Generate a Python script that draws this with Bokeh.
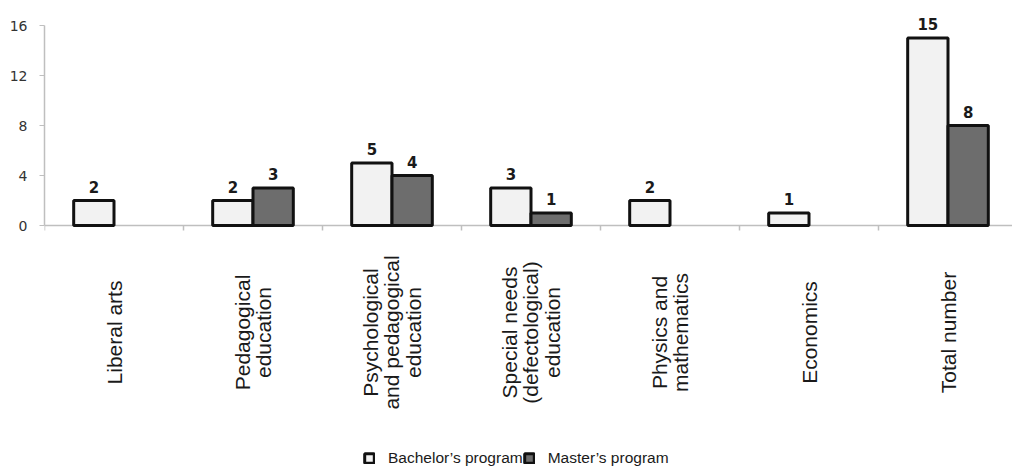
import math
from bokeh.plotting import figure
from bokeh.models import Range1d, FixedTicker, ColumnDataSource, Legend, LegendItem
from bokeh.embed import file_html
from bokeh.resources import INLINE
from bokeh.core.properties import value

categories = [
    "Liberal arts",
    "Pedagogical\neducation",
    "Psychological\nand pedagogical\neducation",
    "Special needs\n(defectological)\neducation",
    "Physics and\nmathematics",
    "Economics",
    "Total number",
]
bachelor = [2, 2, 5, 3, 2, 1, 15]
master = [None, 3, 4, 1, None, None, 8]
y_ticks = [0, 4, 8, 12, 16]
series_names = ["Bachelor\u2019s program", "Master\u2019s program"]

n = len(categories)
bar_w = 0.29
centers = [i + 0.5 for i in range(n)]

b_src = ColumnDataSource(dict(
    x=[c - bar_w / 2 for c in centers],
    top=bachelor,
    label=[str(v) for v in bachelor],
))
mi = [i for i, v in enumerate(master) if v is not None]
m_src = ColumnDataSource(dict(
    x=[centers[i] + bar_w / 2 for i in mi],
    top=[master[i] for i in mi],
    label=[str(master[i]) for i in mi],
))

px_per_unit = 12.5
frame_h = 467
top_val = 18.0
fig_w = 1012
left = 44
cat_px = 139.0
p = figure(width=fig_w, height=frame_h,
           x_range=Range1d(0, (fig_w - left) / cat_px),
           y_range=Range1d(top_val - frame_h / px_per_unit, top_val),
           x_axis_location=None, y_axis_location="left",
           output_backend="svg", toolbar_location=None,
           min_border_left=left, min_border_right=0,
           min_border_top=0, min_border_bottom=0)
p.grid.visible = False
p.outline_line_color = None
p.background_fill_color = "white"

ax = p.yaxis[0]
ax.bounds = (0, 16)
ax.ticker = FixedTicker(ticks=y_ticks)
ax.axis_line_color = "#bfbfbf"
ax.axis_line_width = 1.5
ax.major_tick_line_color = "#bfbfbf"
ax.major_tick_out = 5
ax.major_tick_in = 0
ax.minor_tick_out = 0
ax.minor_tick_in = 0
ax.major_label_standoff = 12
ax.major_label_text_font = "DejaVu Sans"
ax.major_label_text_font_size = "14px"
ax.major_label_text_color = "#333333"

# x axis baseline and category ticks
p.segment(x0=[0], y0=[0], x1=[n], y1=[0], line_color="#bfbfbf", line_width=1.5)
tick_len = 5 / px_per_unit
p.segment(x0=list(range(n)), y0=[0] * n, x1=list(range(n)), y1=[-tick_len] * n,
          line_color="#bfbfbf", line_width=1.5)

r1 = p.vbar(x="x", top="top", bottom=0, width=bar_w, source=b_src,
            fill_color="#f2f2f2", line_color="#111111", line_width=3)
r2 = p.vbar(x="x", top="top", bottom=0, width=bar_w, source=m_src,
            fill_color="#6d6d6d", line_color="#111111", line_width=3)

for src in (b_src, m_src):
    p.text(x="x", y="top", text="label", source=src,
           text_align="center", text_baseline="bottom", y_offset=-8,
           text_font=value("DejaVu Sans"), text_font_style="bold",
           text_font_size="15px", text_color="#1a1a1a")

cat_src = ColumnDataSource(dict(x=centers, y=[0] * n, text=categories))
p.text(x="x", y="y", text="text", source=cat_src, angle=math.pi / 2,
       y_offset=107, text_align="center", text_baseline="middle",
       text_font=value("Liberation Sans"), text_font_size="21px",
       text_line_height=0.95, text_color="#1a1a1a")

legend = Legend(items=[LegendItem(label=series_names[0], renderers=[r1]),
                       LegendItem(label=series_names[1], renderers=[r2])],
                orientation="horizontal", location=(319, 0),
                border_line_color=None, background_fill_alpha=0,
                padding=0, margin=0, spacing=0,
                glyph_width=12, glyph_height=12, label_standoff=13,
                label_text_font="Liberation Sans", label_text_font_size="15.5px",
                label_text_color="#1a1a1a")
p.add_layout(legend, "center")

open("out.html", "w").write(file_html(p, INLINE))
